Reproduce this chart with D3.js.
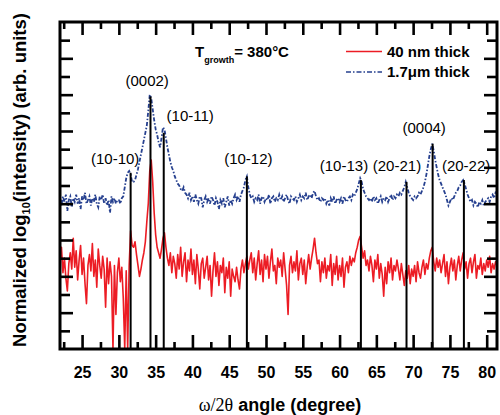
<!DOCTYPE html>
<html>
<head>
<meta charset="utf-8">
<script src="https://cdn.jsdelivr.net/npm/d3@7"></script>
<style>
  body { margin: 0; background: #fff; }
  text { font-family: "Liberation Sans", Arial, sans-serif; }
</style>
</head>
<body>
<div id="chart"></div>
<script>
// diffractometer scan grid (degrees)
var scanStart = 22, scanStop = 81.5, scanStep = 0.2;

// 40 nm thick film, normalized log10 intensity (one row = 2 degrees)
var thinFilm = [
  4.8, 5.6, 4.2, 5.0, 3.9, 3.2, 4.7, 5.3, 4.4, 6.1,
  4.5, 5.4, 3.8, 4.9, 5.7, 4.1, 5.0, 3.6, 2.5, 4.6,
  5.2, 4.3, 5.8, 4.0, 4.9, 3.4, 5.5, 4.6, 3.9, 5.1,
  4.4, 2.3, 5.0, 3.6, 4.8, 4.0, 0.0, 4.6, 1.9, 4.2,
  5.0, 3.7, 4.5, 2.8, 0.0, 4.3, 0.0, 4.6, 6.5, 5.7,
  5.6, 5.9, 5.2, 4.6, 4.0, 4.4, 4.9, 5.3, 5.9, 7.0,
  8.0, 9.8, 10.4, 9.2, 7.5, 6.3, 5.6, 5.3, 5.0, 5.5,
  6.1, 6.4, 5.6, 5.0, 4.6, 5.3, 4.2, 5.1, 4.7, 3.9,
  5.2, 4.4, 5.6, 4.0, 4.8, 5.3, 3.7, 4.9, 4.3, 5.5,
  4.1, 4.9, 3.6, 5.2, 4.4, 3.3, 4.7, 5.0, 3.9, 4.5,
  5.1, 3.8, 4.6, 2.9, 4.3, 5.3, 4.0, 4.8, 3.5, 4.6,
  4.2, 5.0, 3.1, 4.5, 3.9, 4.8, 2.9, 4.4, 4.0, 3.7,
  4.5, 3.8, 3.3, 4.4, 4.9, 4.2, 4.7, 5.1, 4.4, 4.9,
  5.3, 4.2, 5.0, 3.8, 4.7, 5.4, 4.1, 4.9, 3.7, 5.2,
  4.4, 5.1, 3.9, 4.8, 5.5, 4.3, 4.6, 3.6, 5.0, 4.5,
  4.9, 4.0, 5.3, 4.4, 3.5, 1.9, 4.6, 5.1, 4.2, 4.8,
  4.3, 5.4, 3.8, 4.7, 5.0, 4.1, 4.9, 3.6, 4.5, 5.2,
  4.4, 5.0, 5.5, 6.1, 5.3, 4.7, 4.9, 3.7, 4.8, 4.2,
  5.0, 3.9, 4.6, 4.3, 5.2, 3.5, 4.7, 4.1, 5.1, 3.8,
  4.6, 4.0, 5.0, 3.4, 4.5, 4.8, 4.2, 5.1, 4.6, 5.0,
  4.8, 5.3, 5.6, 6.0, 6.2, 5.6, 5.0, 5.4, 4.6, 4.9,
  4.3, 5.1, 4.6, 3.7, 4.9, 4.4, 5.2, 3.9, 4.7, 4.1,
  2.9, 4.5, 3.6, 4.8, 4.2, 5.0, 3.8, 4.6, 4.3, 4.9,
  4.4, 3.8, 4.7, 4.1, 3.5, 4.3, 3.9, 4.6, 3.6, 4.4,
  4.0, 4.6, 3.7, 4.8, 4.2, 3.9, 4.5, 4.9, 4.1, 4.7,
  4.4, 5.0, 5.4, 5.6, 4.8, 4.3, 5.0, 4.5, 4.9, 4.2,
  4.7, 5.2, 4.0, 4.8, 3.6, 4.5, 5.0, 4.3, 4.9, 3.8,
  4.6, 5.1, 4.3, 4.9, 5.3, 4.4, 4.8, 3.9, 4.7, 5.0,
  4.2, 4.8, 5.2, 3.9, 4.6, 4.4, 5.0, 4.1, 4.7, 4.3,
  4.9, 4.5, 5.1, 4.2, 4.7, 4.4, 4.8, 4.6
];

// 1.7 um thick film
var thickFilm = [
  8.3, 7.9, 8.4, 8.1, 8.5, 7.6, 8.2, 8.4, 7.8, 8.3,
  8.1, 8.5, 8.0, 8.3, 7.7, 8.4, 8.2, 8.6, 8.0, 8.2,
  8.4, 7.9, 8.3, 8.1, 8.5, 8.0, 7.8, 8.4, 8.2, 8.5,
  8.0, 8.3, 7.9, 8.2, 7.5, 8.4, 8.1, 8.3, 8.0, 8.2,
  8.2, 8.0, 8.3, 8.4, 8.9, 9.4, 9.7, 9.8, 9.6, 9.2,
  9.2, 9.3, 9.6, 9.9, 10.3, 10.7, 11.1, 11.5, 11.9, 12.3,
  13.1, 14.0, 13.8, 13.2, 12.6, 12.1, 11.8, 11.4, 11.1, 11.6,
  12.2, 12.1, 11.6, 11.1, 10.7, 10.3, 10.0, 9.8, 9.5, 9.3,
  9.1, 9.0, 8.8, 8.7, 8.9, 8.6, 8.5, 8.3, 8.6, 8.2,
  8.4, 8.1, 8.5, 8.2, 8.0, 8.4, 8.3, 7.8, 8.2, 8.4,
  8.1, 8.3, 8.0, 8.4, 8.2, 7.9, 8.3, 8.1, 7.7, 8.2,
  8.0, 8.3, 7.8, 8.1, 8.4, 7.9, 8.2, 8.0, 8.3, 8.5,
  8.2, 8.4, 8.1, 8.5, 8.7, 8.9, 9.3, 9.5, 8.9, 8.5,
  8.3, 8.4, 8.1, 8.3, 8.2, 8.5, 8.0, 8.3, 8.4, 8.1,
  8.3, 8.2, 8.5, 8.0, 8.3, 8.4, 8.1, 8.3, 8.2, 8.5,
  8.2, 8.4, 8.1, 8.3, 8.5, 8.2, 8.0, 8.4, 8.3, 8.2,
  8.4, 8.1, 8.3, 8.5, 8.2, 8.4, 8.3, 8.6, 8.2, 8.4,
  8.5, 8.3, 8.6, 8.7, 8.4, 8.2, 8.3, 8.1, 8.3, 8.2,
  8.3, 8.0, 8.2, 7.9, 8.3, 8.1, 8.4, 8.0, 8.2, 8.3,
  8.1, 8.3, 8.0, 8.4, 8.2, 8.1, 8.3, 8.4, 8.2, 8.5,
  8.4, 8.6, 8.8, 9.1, 9.4, 9.2, 8.8, 8.6, 8.4, 8.3,
  8.2, 8.3, 8.1, 8.4, 8.2, 8.3, 8.0, 8.2, 8.4, 8.1,
  8.3, 8.2, 8.4, 8.1, 8.3, 8.5, 8.2, 8.4, 8.3, 8.5,
  8.4, 8.6, 8.5, 8.7, 8.9, 9.2, 8.9, 8.6, 8.4, 8.3,
  8.2, 8.4, 8.3, 8.4, 8.6, 8.5, 8.7, 8.9, 9.2, 9.6,
  10.1, 10.6, 11.0, 11.3, 10.9, 10.4, 10.0, 9.6, 9.3, 9.1,
  8.9, 8.7, 8.5, 8.2, 7.9, 8.1, 8.3, 8.2, 8.4, 8.6,
  8.7, 8.9, 9.0, 9.2, 9.3, 9.1, 8.8, 8.5, 8.3, 8.1,
  8.2, 7.9, 8.1, 8.0, 7.8, 8.1, 8.0, 8.2, 7.9, 8.1,
  8.2, 8.3, 8.1, 8.4, 8.5, 8.3, 8.6, 8.5
];

// reference reflections (black sticks)
var peakNames = ["(10-10)", "(0002)", "(10-11)", "(10-12)", "(10-13)", "(20-21)", "(0004)", "(20-22)"];
var peakAngles = [31.6, 34.3, 36.1, 47.4, 62.9, 69.1, 72.65, 76.9];
var peakHeights = [9.7, 13.9, 11.9, 9.5, 9.3, 9.2, 11.3, 9.3];
// label anchors: centre angle and baseline level
var labelAngles = [29.5, 33.85, 39.7, 47.6, 60.6, 67.8, 71.5, 77.2];
var labelLevels = [10.2, 14.5, 12.55, 10.2, 9.8, 9.8, 11.9, 9.8];

var xTicks = [25, 30, 35, 40, 45, 50, 55, 60, 65, 70, 75, 80];
var xMinorTicks = [22.5, 27.5, 32.5, 37.5, 42.5, 47.5, 52.5, 57.5, 62.5, 67.5, 72.5, 77.5];
var yTicks = [2, 4, 6, 8, 10, 12, 14, 16];
var yMinorTicks = [1, 3, 5, 7, 9, 11, 13, 15, 17];

var angles = d3.range(scanStart, scanStop, scanStep);

var svg = d3.select("#chart").append("svg")
    .attr("width", 500)
    .attr("height", 415);

var frame = {left: 60, right: 497, top: 22, bottom: 349};

var x = d3.scaleLinear().domain([22, 81.4]).range([frame.left, frame.right]);
var y = d3.scaleLinear().domain([0, 18]).range([frame.bottom, frame.top]);

svg.append("clipPath").attr("id", "plotArea")
  .append("rect")
    .attr("x", frame.left).attr("y", frame.top)
    .attr("width", frame.right - frame.left).attr("height", frame.bottom - frame.top);

var line = d3.line()
    .x(function(d, i) { return x(angles[i]); })
    .y(function(d) { return y(d); });

var plot = svg.append("g").attr("clip-path", "url(#plotArea)");

plot.append("path")
    .datum(thinFilm)
    .attr("d", line)
    .attr("fill", "none")
    .attr("stroke", "#ec1c24")
    .attr("stroke-width", 1.6)
    .attr("stroke-linejoin", "round");

plot.append("path")
    .datum(thickFilm)
    .attr("d", line)
    .attr("fill", "none")
    .attr("stroke", "#26408f")
    .attr("stroke-width", 1.8)
    .attr("stroke-dasharray", "4,1.8,1.5,1.8");

plot.selectAll(".stick")
    .data(peakAngles)
    .enter().append("line")
    .attr("class", "stick")
    .attr("x1", function(d) { return x(d); })
    .attr("x2", function(d) { return x(d); })
    .attr("y1", y(0))
    .attr("y2", function(d, i) { return y(peakHeights[i]); })
    .attr("stroke", "#000")
    .attr("stroke-width", 2);

// ticks on all four sides, pointing inwards
function ticks(axis, values, size, transform) {
  var g = svg.append("g")
      .attr("transform", transform)
      .call(axis.tickValues(values).tickSize(-size).tickFormat(""));
  g.select(".domain").remove();
  g.selectAll(".tick line").attr("stroke", "#000").attr("stroke-width", 2.6);
  return g;
}

ticks(d3.axisTop(x), xTicks, 13, "translate(0," + frame.top + ")");
ticks(d3.axisTop(x), xMinorTicks, 7, "translate(0," + frame.top + ")");
ticks(d3.axisBottom(x), xMinorTicks, 7, "translate(0," + frame.bottom + ")");
ticks(d3.axisLeft(y), yTicks, 13, "translate(" + frame.left + ",0)");
ticks(d3.axisLeft(y), yMinorTicks, 10, "translate(" + frame.left + ",0)");
ticks(d3.axisRight(y), yTicks, 13, "translate(" + frame.right + ",0)");
ticks(d3.axisRight(y), yMinorTicks, 10, "translate(" + frame.right + ",0)");

var xAxis = svg.append("g")
    .attr("transform", "translate(0," + frame.bottom + ")")
    .call(d3.axisBottom(x).tickValues(xTicks).tickSize(-14).tickPadding(18));
xAxis.select(".domain").remove();
xAxis.selectAll(".tick line").attr("stroke", "#000").attr("stroke-width", 2.6);
xAxis.selectAll(".tick text")
    .attr("fill", "#000")
    .style("font-family", "'Liberation Sans', Arial, sans-serif")
    .style("font-size", "16px")
    .style("font-weight", "bold");

svg.append("rect")
    .attr("x", frame.left).attr("y", frame.top)
    .attr("width", frame.right - frame.left).attr("height", frame.bottom - frame.top)
    .attr("fill", "none")
    .attr("stroke", "#000")
    .attr("stroke-width", 3);

// peak labels
svg.selectAll(".peakLabel")
    .data(peakNames)
    .enter().append("text")
    .attr("class", "peakLabel")
    .attr("x", function(d, i) { return x(labelAngles[i]); })
    .attr("y", function(d, i) { return y(labelLevels[i]); })
    .attr("text-anchor", "middle")
    .attr("font-size", "15px")
    .text(function(d) { return d; });

// axis titles
var yTitle = svg.append("text")
    .attr("transform", "translate(26,180) rotate(-90)")
    .attr("text-anchor", "middle")
    .attr("font-size", "18.5px")
    .attr("font-weight", "bold");
yTitle.append("tspan").text("Normalized log");
yTitle.append("tspan").attr("font-size", "11px").attr("dy", 4).text("10");
yTitle.append("tspan").attr("dy", -4).text("(intensity) (arb. units)");

var xTitle = svg.append("text")
    .attr("x", 280).attr("y", 411)
    .attr("text-anchor", "middle")
    .attr("font-size", "18px")
    .attr("font-weight", "bold");
xTitle.append("tspan")
    .style("font-family", "'Liberation Serif', 'Times New Roman', serif")
    .attr("font-weight", "normal")
    .text("\u03c9/2\u03b8");
xTitle.append("tspan").text(" angle (degree)");

// growth temperature note
var note = svg.append("text")
    .attr("x", 195).attr("y", 57)
    .attr("font-size", "15px")
    .attr("font-weight", "bold");
note.append("tspan").text("T");
note.append("tspan").attr("font-size", "9px").attr("dy", 6).text("growth");
note.append("tspan").attr("dy", -6).text("= 380\u00b0C");

// legend
var legend = svg.append("g");
legend.append("line")
    .attr("x1", 346).attr("x2", 382).attr("y1", 51.5).attr("y2", 51.5)
    .attr("stroke", "#ec1c24").attr("stroke-width", 1.5);
legend.append("text")
    .attr("x", 387).attr("y", 57)
    .attr("font-size", "15px").attr("font-weight", "bold")
    .text("40 nm thick");
legend.append("line")
    .attr("x1", 346).attr("x2", 382).attr("y1", 72).attr("y2", 72)
    .attr("stroke", "#26408f").attr("stroke-width", 1.6)
    .attr("stroke-dasharray", "5,2,1.5,2");
legend.append("text")
    .attr("x", 387).attr("y", 77)
    .attr("font-size", "15px").attr("font-weight", "bold")
    .text("1.7\u03bcm thick");
</script>
</body>
</html>
